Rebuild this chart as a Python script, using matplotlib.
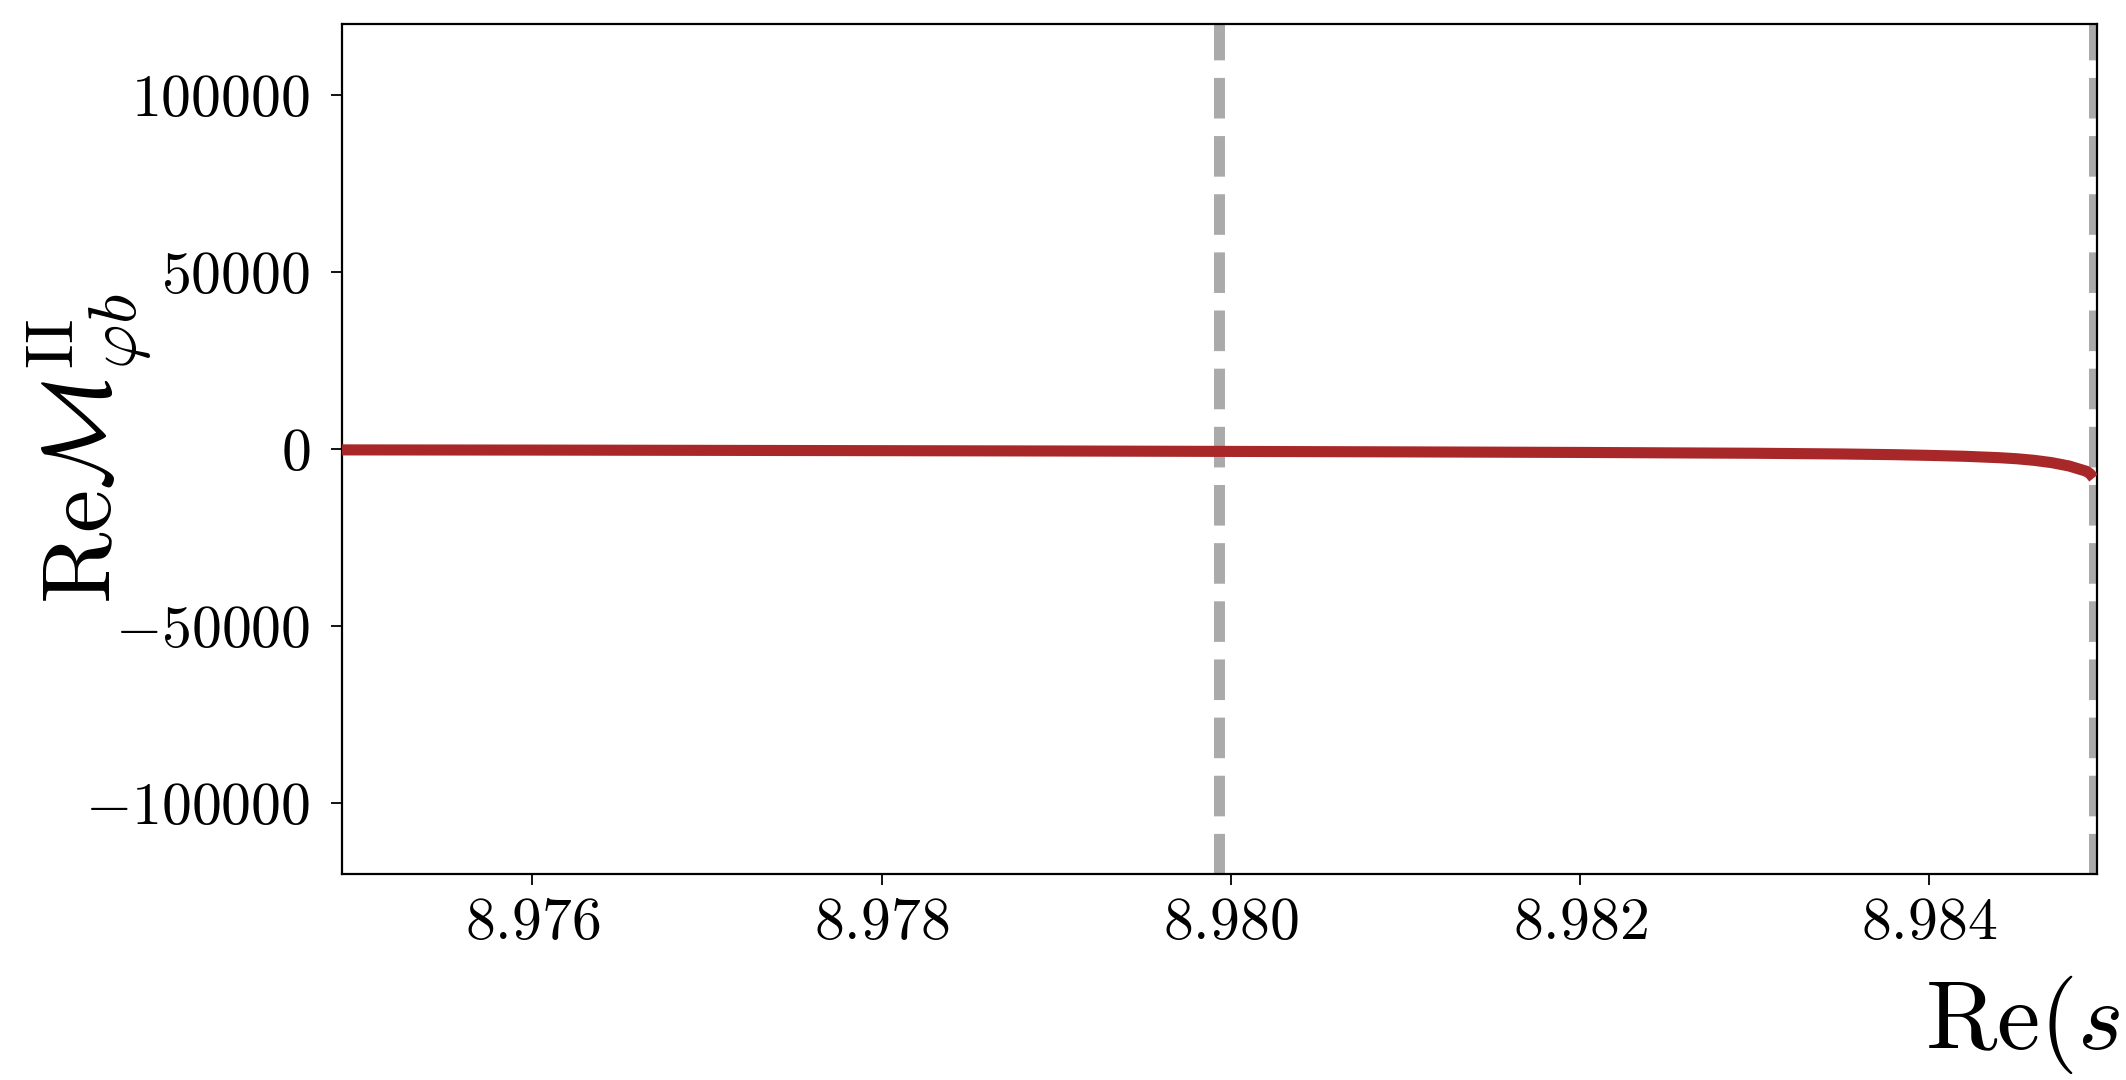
import matplotlib
matplotlib.use("Agg")
import matplotlib.pyplot as plt
from matplotlib.ticker import FixedLocator, FuncFormatter

plt.rcParams["mathtext.fontset"] = "cm"
plt.rcParams["font.family"] = "serif"
plt.rcParams["font.serif"] = ["cmr10", "DejaVu Serif"]
plt.rcParams["axes.unicode_minus"] = False

# Real part of the amplitude along the real s axis
re_s = [8.97491, 8.9760, 8.9770, 8.9780, 8.9790, 8.9800, 8.9810, 8.9820,
        8.9830, 8.9835, 8.9838, 8.9840, 8.9842, 8.9844, 8.9845, 8.9846,
        8.9847, 8.9848, 8.9849, 8.98492, 8.98494]
re_m = [-250, -300, -380, -470, -560, -680, -810, -970,
        -1200, -1400, -1600, -1800, -2050, -2450, -2750, -3200,
        -3850, -4800, -6300, -7000, -8200]

# Thresholds
thresholds = [8.97993, 8.98494]

x_ticks = [8.976, 8.978, 8.980, 8.982, 8.984]
x_tick_labels = ["8.976", "8.978", "8.980", "8.982", "8.984"]
y_ticks = [-100000, -50000, 0, 50000, 100000]

x_limits = (8.97491, 8.98496)
y_limits = (-120000, 120000)

fig = plt.figure(figsize=(21.26, 10.8), dpi=100)
ax = fig.add_axes([0.1609, 0.1907, 0.8255, 0.7871])

for xt in thresholds:
    ax.axvline(xt, color="#aaaaaa", lw=7.9, ls="--", zorder=1)

ax.plot(re_s, re_m, color="#a8282a", lw=8, zorder=3,
        solid_capstyle="butt", solid_joinstyle="round")

ax.set_xlim(*x_limits)
ax.set_ylim(*y_limits)

ax.xaxis.set_major_locator(FixedLocator(x_ticks))
ax.xaxis.set_major_formatter(FuncFormatter(
    lambda v, p: "$%s$" % x_tick_labels[x_ticks.index(round(v, 3))]
    if round(v, 3) in x_ticks else ""))
ax.yaxis.set_major_locator(FixedLocator(y_ticks))
ax.yaxis.set_major_formatter(FuncFormatter(lambda v, p: "$%d$" % int(round(v))))

ax.tick_params(axis="both", which="major", labelsize=43, length=8,
               width=1.3, direction="out", top=False, right=False)
ax.tick_params(axis="x", pad=9)
ax.tick_params(axis="y", pad=15)
for sp in ax.spines.values():
    sp.set_linewidth(1.6)

ax.set_ylabel(r"$\mathrm{Re}\mathcal{M}^{\mathrm{II}}_{\varphi b}$", fontsize=70)
ax.yaxis.set_label_coords(-0.107, 0.5)

fig.text(1925 / 2126, 1 - 1050 / 1080, r"$\mathrm{Re}(s/m^2)$",
         fontsize=70, ha="left", va="baseline")

fig.savefig("out.png", dpi=100, facecolor="white")
